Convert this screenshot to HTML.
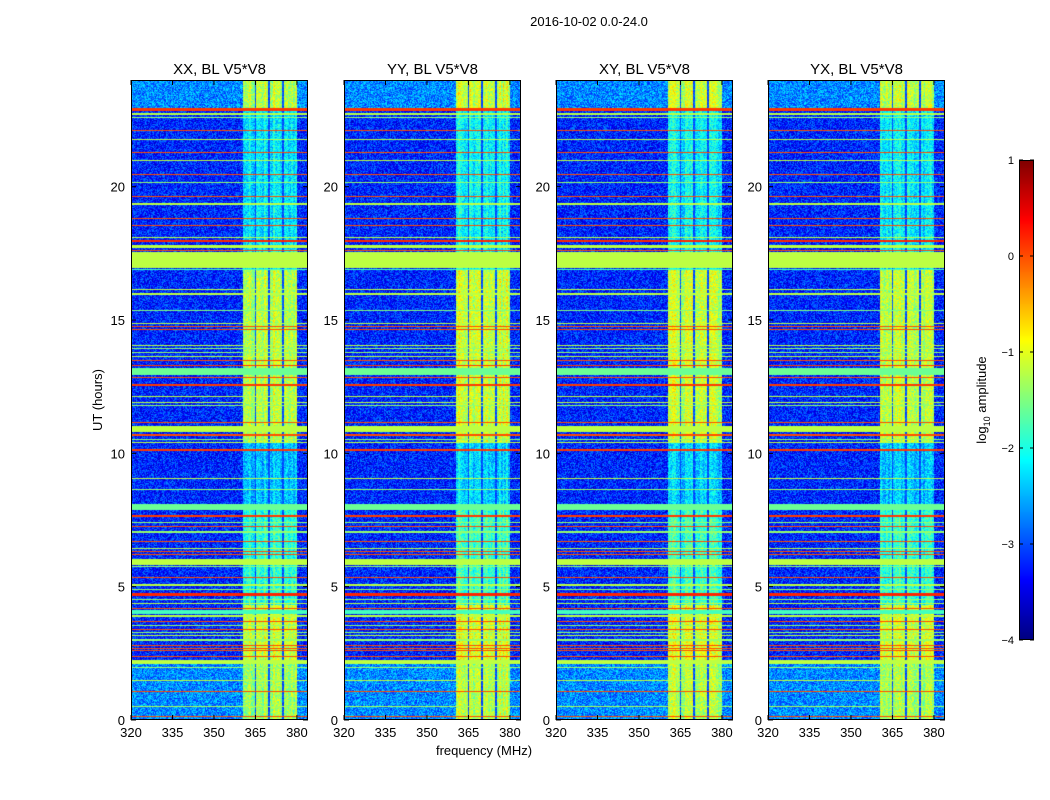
<!DOCTYPE html>
<html><head><meta charset="utf-8">
<style>
body{margin:0;background:#fff;font-family:"Liberation Sans",sans-serif;}
#root{position:relative;width:1050px;height:800px;overflow:hidden;}
canvas{position:absolute;}
svg{position:absolute;left:0;top:0;}
text{font-family:"Liberation Sans",sans-serif;}
</style></head>
<body>
<div id="root">
<svg id="ov" width="1050" height="800"></svg>
</div>
<script>
// ---- data ----
const panelTitles = ["XX, BL V5*V8","YY, BL V5*V8","XY, BL V5*V8","YX, BL V5*V8"];
const xTicks = [320,335,350,365,380];
const yTicks = [0,5,10,15,20];
const cbTicks = [1,0,-1,-2,-3,-4];
// RFI horizontal lines: hour, thickness (hours), log10 amplitude
const lineHours = [22.9,22.72,22.6,22.12,21.78,21.29,20.97,20.46,20.16,19.62,19.36,18.81,18.53,18.08,17.97,17.75,17.62,16.9,16.15,15.97,15.37,14.87,14.75,14.66,14.06,13.94,13.77,13.62,13.47,13.29,13.07,12.83,12.56,12.12,11.89,11.81,11.16,10.92,10.71,10.66,10.52,10.4,10.12,9.06,8.65,7.98,7.65,7.41,7.25,7.05,6.69,6.44,6.31,6.19,5.93,5.75,5.34,5.06,4.91,4.7,4.53,4.37,4.19,4.05,3.9,3.69,3.54,3.4,3.27,3.18,3.0,2.81,2.69,2.6,2.38,2.18,1.96,1.47,1.06,0.5,0.12];
const lineWidths = [0.1,0.05,0.04,0.04,0.05,0.04,0.04,0.04,0.04,0.04,0.08,0.04,0.04,0.04,0.08,0.12,0.04,0.04,0.04,0.07,0.04,0.04,0.04,0.04,0.04,0.04,0.04,0.04,0.04,0.06,0.26,0.04,0.08,0.04,0.04,0.04,0.04,0.22,0.04,0.04,0.04,0.05,0.08,0.04,0.04,0.22,0.08,0.04,0.04,0.04,0.04,0.04,0.04,0.04,0.23,0.04,0.04,0.05,0.04,0.1,0.04,0.05,0.04,0.15,0.04,0.04,0.04,0.04,0.04,0.04,0.04,0.04,0.04,0.04,0.04,0.13,0.04,0.04,0.04,0.04,0.05];
const lineLevels = [0.1,-1.2,-1.4,0,-1.2,0,-1.2,0,-1.4,0,-1.2,0,0,-1.2,0.2,-1.2,0,-1.8,-1.2,-1.2,-1.5,-1.2,0,0,-1.2,-1.4,-1.4,-1.2,0,0.1,-1.6,0,0.1,-1.2,-1.2,-1.4,0,-1.2,0,0,-1.4,-1.2,0.1,-1.2,-1.4,-1.6,0.1,-1.4,0,-1.4,0,-1.2,0,0,-1.2,-1.4,0,-1.2,-1.4,0.2,-1.4,-1.2,0,-1.8,-1.2,0,-1.4,0,-1.4,-1.2,-1.4,0,0,0,0,-1.2,-1.4,-1.2,0,-1.3,0];
// big saturated block
const blockStart = 16.94, blockEnd = 17.54, blockLevel = -1.2;
// activity in 360-380 MHz band, by hour range
const bandHourStart = [0,2.2,4.3,8.0,10.4,16.9,22.9];
const bandHourEnd   = [2.2,4.3,8.0,10.4,16.9,22.9,24.0];
const bandLevels    = [-1.3,-1.1,-1.9,-2.4,-1.2,-2.2,-1.2];
const bandFreqStart = 360.4, bandFreqEnd = 380.0;
const gapFreqs = [365,370,375];
const backgroundLevel = -3.2;
// per-panel brightening of band (YY shows hotter band)
const panelBandBoost = [0,0.1,0,0];

// ---- layout ----
const panelX = [131,344,556,768], panelW = 177, panelY = 80, panelH = 640;
const fMin = 320, fMax = 384, hMin = 0, hMax = 24;
const xs = (f,i)=>panelX[i] + (f-fMin)/(fMax-fMin)*panelW;
const ys = h=>panelY + panelH - (h-hMin)/(hMax-hMin)*panelH;
const cbX=1019, cbW=15, cbY=160, cbH=480, vMin=-4, vMax=1;
const cbs = v=>cbY + (vMax-v)/(vMax-vMin)*cbH;

function jet(v){
  let t=(v-vMin)/(vMax-vMin); t=Math.max(0,Math.min(1,t));
  const c=x=>Math.round(255*Math.max(0,Math.min(1,x)));
  return [c(1.5-Math.abs(4*t-3)),c(1.5-Math.abs(4*t-2)),c(1.5-Math.abs(4*t-1))];
}
function hash(a,b,s){let h=(a*374761393+b*668265263+s*2147483647)|0;h=(h^(h>>>13))*1274126177|0;return ((h^(h>>>16))>>>0)/4294967295;}

const root=document.getElementById('root');
const svg=document.getElementById('ov');
const NS='http://www.w3.org/2000/svg';
function mk(tag,attrs,txt){const e=document.createElementNS(NS,tag);for(const k in attrs)e.setAttribute(k,attrs[k]);if(txt!==undefined)e.textContent=txt;svg.appendChild(e);return e;}

function valueAt(f,h,i,px,py){
  const n=hash(px,py,i+1)-0.5;
  if(h>=blockStart&&h<=blockEnd) return blockLevel;
  for(let k=0;k<lineHours.length;k++){
    if(Math.abs(h-lineHours[k])<=lineWidths[k]/2) return lineLevels[k];
  }
  if(f>=bandFreqStart&&f<=bandFreqEnd){
    for(const g of gapFreqs) if(Math.abs(f-g)<0.3) return -3.0+n*0.4;
    for(let k=0;k<bandLevels.length;k++){
      if(h>=bandHourStart[k]&&h<bandHourEnd[k]){
        const colVar=hash(Math.floor(f*1.5),0,i+7)-0.5;
        return bandLevels[k]+panelBandBoost[i]+n*0.8+colVar*0.5;
      }
    }
  }
  let b=backgroundLevel;
  if(h<2.2||h>22.9) b+=0.5;
  return b+n*1.0;
}

for(let i=0;i<4;i++){
  const cv=document.createElement('canvas');
  
  
  cv.width=panelW;cv.height=panelH;
  cv.style.left=panelX[i]+'px';cv.style.top=panelY+'px';
  root.insertBefore(cv,svg);
  const ctx=cv.getContext('2d');const im=ctx.createImageData(panelW,panelH);
  for(let py=0;py<panelH;py++){
    const h=hMax-(py+0.5)/panelH*(hMax-hMin);
    for(let px=0;px<panelW;px++){
      const f=fMin+(px+0.5)/panelW*(fMax-fMin);
      const [r,g,b]=jet(valueAt(f,h,i,px,py));
      const o=(py*panelW+px)*4;im.data[o]=r;im.data[o+1]=g;im.data[o+2]=b;im.data[o+3]=255;
    }
  }
  ctx.putImageData(im,0,0);
  const fr=mk('rect',{x:panelX[i]+0.5,y:panelY+0.5,width:panelW-1,height:panelH-1,fill:'none',stroke:'#000','stroke-width':1});
  
  
  const t=mk('text',{x:panelX[i]+panelW/2,y:74,'font-size':15,'text-anchor':'middle'},panelTitles[i]);
  
  
  for(const xv of xTicks){
    const x=xs(xv,i);
    mk('line',{x1:x,x2:x,y1:panelY+panelH,y2:panelY+panelH-5,stroke:'#000'});
    mk('line',{x1:x,x2:x,y1:panelY,y2:panelY+5,stroke:'#000'});
    const tl=mk('text',{x:x,y:737,'font-size':13,'text-anchor':'middle'},String(xv));
    
    
  }
  for(const yv of yTicks){
    const y=ys(yv);
    mk('line',{x1:panelX[i],x2:panelX[i]+5,y1:y,y2:y,stroke:'#000'});
    mk('line',{x1:panelX[i]+panelW,x2:panelX[i]+panelW-5,y1:y,y2:y,stroke:'#000'});
    const tl=mk('text',{x:panelX[i]-6,y:y+5,'font-size':13,'text-anchor':'end'},String(yv));
    
    
  }
}
const ttl=mk('text',{x:589,y:26,'font-size':13,'text-anchor':'middle'},'2016-10-02 0.0-24.0');


const yl=mk('text',{x:102,y:400,'font-size':13,'text-anchor':'middle',transform:'rotate(-90 102 400)'},'UT (hours)');


const xl=mk('text',{x:484,y:755,'font-size':13,'text-anchor':'middle'},'frequency (MHz)');



const cb=document.createElement('canvas');


cb.width=cbW;cb.height=cbH;cb.style.left=cbX+'px';cb.style.top=cbY+'px';
root.insertBefore(cb,svg);
const cctx=cb.getContext('2d');
for(let py=0;py<cbH;py++){const v=vMax-(py+0.5)/cbH*(vMax-vMin);const [r,g,b]=jet(v);cctx.fillStyle=`rgb(${r},${g},${b})`;cctx.fillRect(0,py,cbW,1);}
mk('rect',{x:cbX+0.5,y:cbY+0.5,width:cbW-1,height:cbH-1,fill:'none',stroke:'#000'});
for(const v of cbTicks){
  const y=cbs(v);
  mk('line',{x1:cbX,x2:cbX+4,y1:y,y2:y,stroke:'#000'});
  mk('line',{x1:cbX+cbW,x2:cbX+cbW-4,y1:y,y2:y,stroke:'#000'});
  const tl=mk('text',{x:cbX-5,y:y+4,'font-size':11,'text-anchor':'end'},v<0?'\u2212'+(-v):String(v));
  
  
}
const cl=mk('text',{x:986,y:400,'font-size':13,'text-anchor':'middle',transform:'rotate(-90 986 400)'});


cl.innerHTML='log<tspan font-size="9" dy="4">10</tspan><tspan dy="-4"> amplitude</tspan>';
</script>
</body></html>
